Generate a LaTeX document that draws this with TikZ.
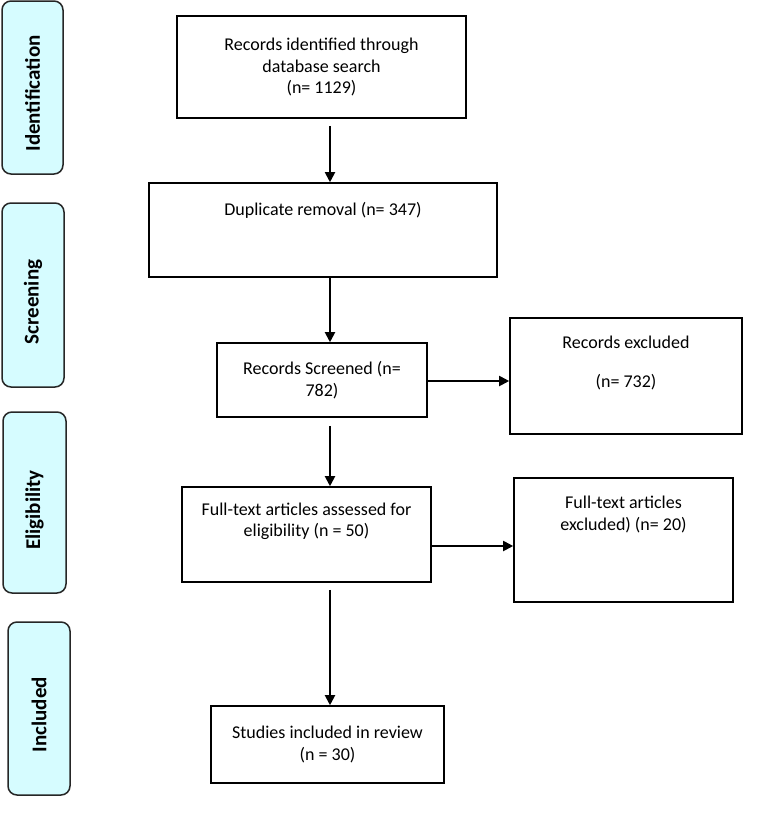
\documentclass[tikz,border=0pt]{standalone}
\usepackage{fontspec}
\setmainfont{Carlito}
\usetikzlibrary{positioning, arrows.meta}

\definecolor{stagefill}{RGB}{214,252,255}

\begin{document}
\begin{tikzpicture}[x=1pt, y=-1pt,
        box/.style={draw, line width=1.6pt, rectangle, align=center, inner sep=0pt,
            font=\fontsize{18}{21.5}\selectfont},
        boxtext/.style={font=\fontsize{18}{21.5}\selectfont, align=center, anchor=center},
        stage/.style={draw=black!85, fill=stagefill, line width=1.5pt, rounded corners=9pt},
        stagetext/.style={rotate=90, font=\fontsize{21}{24}\selectfont\bfseries},
        arr/.style={-{Triangle[length=10pt, width=10pt]}, line width=1.9pt}]

        \useasboundingbox (0,0) rectangle (757,815);

        % 左侧阶段标签
        \node[stage, minimum width=61pt, minimum height=173pt,
            label={[stagetext, xshift=-6pt]center:Identification}] (sid) at (32.5,87.5) {};
        \node[stage, minimum width=62pt, minimum height=184pt,
            label={[stagetext, xshift=-7pt]center:Screening}] (ssc) at (33,295) {};
        \node[stage, minimum width=63pt, minimum height=181pt,
            label={[stagetext, xshift=-7.5pt]center:Eligibility}] (sel) at (34.5,502.5) {};
        \node[stage, minimum width=62pt, minimum height=173pt,
            label={[stagetext, xshift=-6pt]center:Included}] (sin) at (39,708.5) {};

        % 主流程框
        \node[box, minimum width=289pt, minimum height=102pt] (ident) at (321.5,67)
            {Records identified through\\database search\\(n= 1129)};
        \node[box, minimum width=348pt, minimum height=94pt,
            label={[boxtext, yshift=-28pt]north:Duplicate removal (n= 347)}]
            (dup) at (323,230) {};
        \node[box, minimum width=210pt, minimum height=74pt] (scr) at (322,380)
            {Records Screened (n=\\782)};
        \node[box, minimum width=249pt, minimum height=95pt,
            label={[boxtext, yshift=-35pt]north:Full-text articles assessed for\\eligibility (n = 50)}]
            (fta) at (306.5,534.5) {};
        \node[box, minimum width=233pt, minimum height=77pt] (stu) at (327.5,744.5)
            {Studies included in review\\(n = 30)};

        % 排除框
        \node[box, minimum width=232pt, minimum height=116pt,
            label={[boxtext, yshift=-46pt]north:Records excluded\\[17pt](n= 732)}]
            (exc) at (626,376) {};
        \node[box, minimum width=219pt, minimum height=124pt,
            label={[boxtext, yshift=-37.5pt]north:Full-text articles\\excluded) (n= 20)}]
            (fte) at (623.5,540) {};

        % 竖直箭头
        \coordinate (spine) at (330,0);
        \draw[arr, shorten <=7pt] (ident.south -| spine) -- (dup.north -| spine);
        \draw[arr] (dup.south -| spine) -- (scr.north -| spine);
        \draw[arr, shorten <=8pt] (scr.south -| spine) -- (fta.north -| spine);
        \draw[arr, shorten <=7pt] (fta.south -| spine) -- (stu.north -| spine);

        % 水平箭头
        \draw[arr] ([yshift=-1pt]scr.east) -- ([yshift=-1pt]scr.east -| exc.west);
        \draw[arr] ([yshift=-11.5pt]fta.east) -- ([yshift=-11.5pt]fta.east -| fte.west);
    \end{tikzpicture}
\end{document}
